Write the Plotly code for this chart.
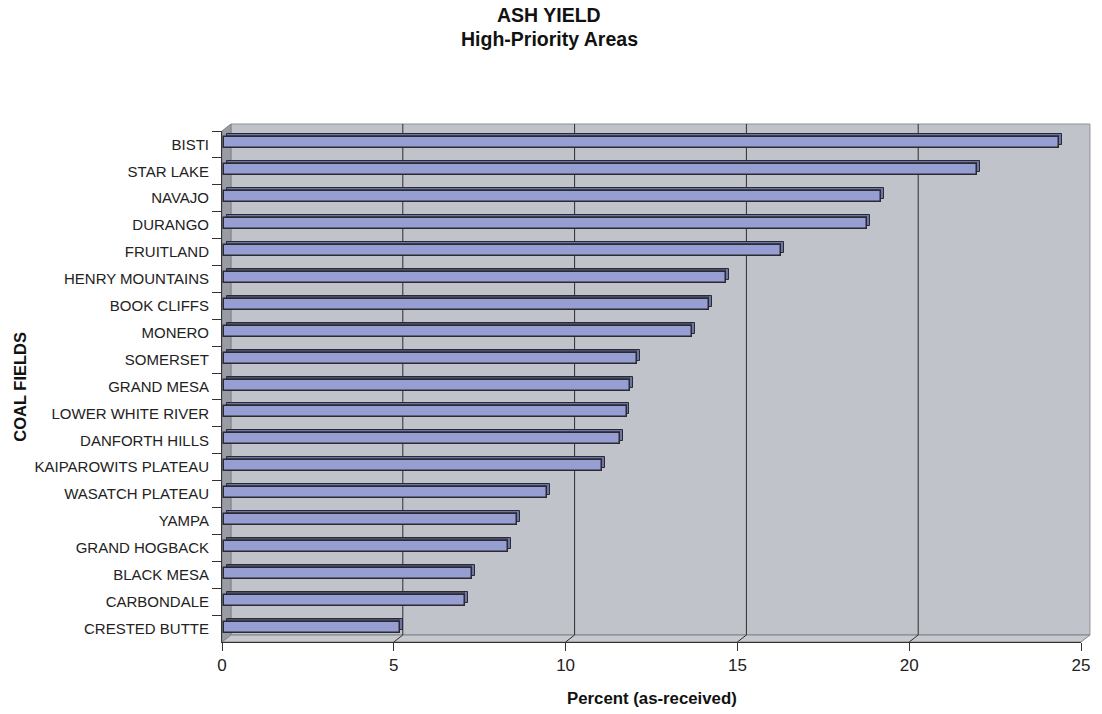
import plotly.graph_objects as go

# ---------------- data ----------------
fields = ["BISTI", "STAR LAKE", "NAVAJO", "DURANGO", "FRUITLAND", "HENRY MOUNTAINS",
          "BOOK CLIFFS", "MONERO", "SOMERSET", "GRAND MESA", "LOWER WHITE RIVER",
          "DANFORTH HILLS", "KAIPAROWITS PLATEAU", "WASATCH PLATEAU", "YAMPA",
          "GRAND HOGBACK", "BLACK MESA", "CARBONDALE", "CRESTED BUTTE"]
ash_pct = [24.3, 21.9, 19.1, 18.7, 16.2, 14.6, 14.1, 13.6, 12.0, 11.8, 11.7,
           11.5, 11.0, 9.4, 8.5, 8.25, 7.2, 7.0, 5.1]
x_ticks = [0, 5, 10, 15, 20, 25]
title_lines = ["ASH YIELD", "High-Priority Areas"]
x_title = "Percent (as-received)"
y_title = "COAL FIELDS"

# ---------------- geometry helpers (pixels) ----------------
W, H = 1102, 714
ML, MR, MT, MB = 222, 16, 131, 72
PW, PH = W - ML - MR, H - MT - MB
XMAX = 25
px_per_unit = PW / XMAX
DX, DY = 9, 7            # depth of the 3-D box
dxp, dyp = DX / PW, DY / PH
n = len(fields)
cat_px = PH / n

bar_base = 2.5 / px_per_unit         # bars sit slightly behind the front plane
face_w = 11 / cat_px                 # front-face thickness (category units)
face_off = -1.5 / cat_px - face_w / 2
dep_x = 3 / px_per_unit
dep_y = 3 / cat_px

FACE = "#969ED2"
SIDE = "#6C74A8"
TOP = "#4B506E"
EDGE = "#2A2A33"

fig = go.Figure()

# depth (side face) bar
fig.add_trace(go.Bar(
    y=fields, x=ash_pct, base=bar_base + dep_x, orientation="h",
    offset=face_off - dep_y, width=face_w,
    marker=dict(color=SIDE, line=dict(color=EDGE, width=1)),
    hoverinfo="skip", showlegend=False))
# top face strip
fig.add_trace(go.Bar(
    y=fields, x=[v - dep_x for v in ash_pct], base=bar_base + dep_x, orientation="h",
    offset=face_off - dep_y + 0.02, width=dep_y,
    marker=dict(color=TOP, line=dict(width=0)),
    hoverinfo="skip", showlegend=False))
# front face
fig.add_trace(go.Bar(
    y=fields, x=ash_pct, base=bar_base, orientation="h",
    offset=face_off, width=face_w,
    marker=dict(color=FACE, line=dict(color=EDGE, width=1.5)),
    hovertemplate="%{y}: %{x}%<extra></extra>", showlegend=False))

shapes = []
WALL = "#C0C3C9"
SIDEWALL = "#999CA2"
FLOOR = "#C6C9CE"
# back wall
shapes.append(dict(type="rect", xref="paper", yref="paper", x0=dxp, x1=1 + dxp,
                   y0=dyp, y1=1 + dyp, fillcolor=WALL,
                   line=dict(color="#8E9196", width=1), layer="below"))
# side wall
shapes.append(dict(type="path", xref="paper", yref="paper",
                   path=f"M0,0 L{dxp},{dyp} L{dxp},{1+dyp} L0,1 Z",
                   fillcolor=SIDEWALL, line=dict(color="#7E8186", width=1), layer="below"))
# floor
shapes.append(dict(type="path", xref="paper", yref="paper",
                   path=f"M0,0 L{dxp},{dyp} L{1+dxp},{dyp} L1,0 Z",
                   fillcolor=FLOOR, line=dict(color="#7E8186", width=1), layer="below"))
# back-wall gridlines + floor diagonals
for t in x_ticks[1:-1]:
    shapes.append(dict(type="path", xref="x", xsizemode="pixel", xanchor=t,
                       yref="paper", ysizemode="pixel", yanchor=0,
                       path=f"M0,0 L{DX},{DY} L{DX},{PH + DY}",
                       line=dict(color="#2E2E2E", width=1), layer="below"))
# right end of floor
shapes.append(dict(type="path", xref="x", xsizemode="pixel", xanchor=XMAX,
                   yref="paper", ysizemode="pixel", yanchor=0,
                   path=f"M0,0 L{DX},{DY}",
                   line=dict(color="#555", width=1), layer="below"))

annotations = [
    dict(text="<b>" + title_lines[0] + "</b>", xref="paper", yref="paper",
         x=(W / 2 - ML) / PW, y=1 + (MT - 15.5) / PH, showarrow=False,
         font=dict(size=19.5, color="#111"), xanchor="center", yanchor="middle"),
    dict(text="<b>" + title_lines[1] + "</b>", xref="paper", yref="paper",
         x=(W / 2 - ML) / PW, y=1 + (MT - 38.5) / PH, showarrow=False,
         font=dict(size=19.5, color="#111"), xanchor="center", yanchor="middle"),
    dict(text="<b>" + x_title + "</b>", xref="paper", yref="paper",
         x=0.5, y=-(698 - (MT + PH)) / PH, showarrow=False,
         font=dict(size=16.8, color="#111"), xanchor="center", yanchor="middle"),
    dict(text="<b>" + y_title + "</b>", xref="paper", yref="paper",
         x=(18 - ML) / PW, y=0.5, showarrow=False, textangle=-90,
         font=dict(size=16.5, color="#111"), xanchor="center", yanchor="middle"),
]

fig.update_layout(
    width=W, height=H,
    margin=dict(l=ML, r=MR, t=MT, b=MB, pad=0),
    paper_bgcolor="white", plot_bgcolor="rgba(0,0,0,0)",
    barmode="overlay", bargap=0,
    font=dict(family="Liberation Sans, Arial, sans-serif", size=15, color="#222"),
    shapes=shapes, annotations=annotations,
    xaxis=dict(range=[0, XMAX], tickvals=x_ticks, ticks="outside", ticklen=8,
               tickcolor="#333", showgrid=False, zeroline=False, showline=True,
               linecolor="#333", linewidth=1, tickfont=dict(size=17, color="#222"),
               fixedrange=True),
    yaxis=dict(categoryorder="array", categoryarray=fields, autorange="reversed",
               ticks="outside", tickson="boundaries", ticklen=9, tickcolor="#333",
               ticklabelstandoff=9,
               showline=True, linecolor="#333", linewidth=1, showgrid=False,
               tickfont=dict(size=15, color="#222"), fixedrange=True),
)

fig.write_html("out.html")
